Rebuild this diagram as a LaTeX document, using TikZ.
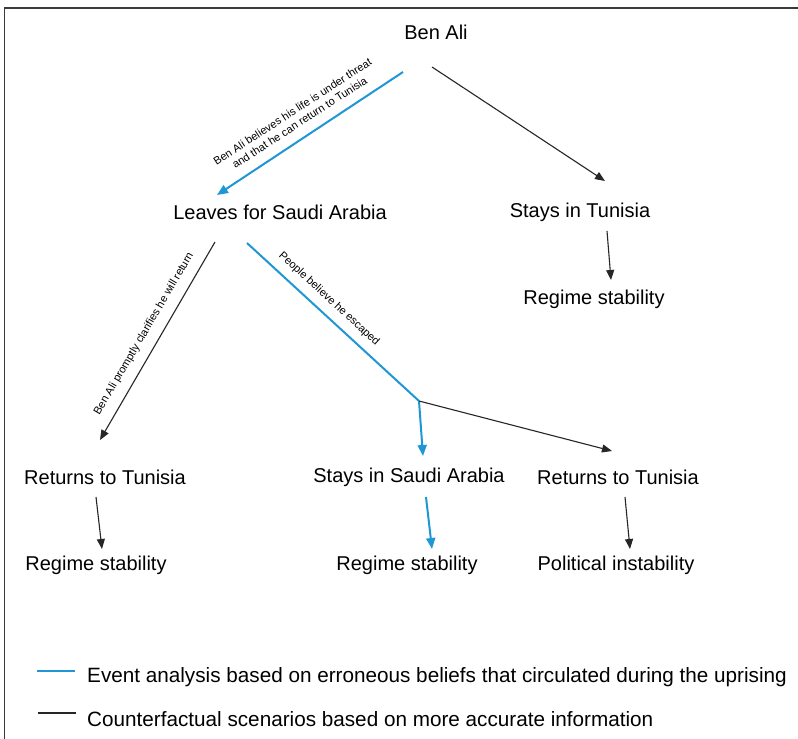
\documentclass[tikz,border=0pt]{standalone}
\usepackage{fontspec}
\setmainfont{Liberation Sans}
\usetikzlibrary{arrows.meta}
\definecolor{evblue}{HTML}{1F97D4}
\definecolor{framegray}{HTML}{3A3A3A}
\begin{document}
\begin{tikzpicture}[x=1pt,y=-1pt,
  lbl/.style={font=\fontsize{20}{24}\selectfont, inner sep=0pt, anchor=center},
  edgelbl/.style={font=\fontsize{11}{13}\selectfont, inner sep=0pt, align=center},
  legtxt/.style={font=\fontsize{20.7}{24}\selectfont, inner sep=0pt, anchor=west},
  bluearr/.style={draw=evblue, line width=2pt, -{Triangle[length=11pt,width=9pt]}},
  blackarr/.style={draw=black!85, line width=1.1pt, -{Triangle[length=10pt,width=8pt]}},
  blueline/.style={draw=evblue, line width=2pt},
  blackline/.style={draw=black!85, line width=1.1pt},
]
\useasboundingbox (0,0) rectangle (798,739);
\fill[white] (0,0) rectangle (798,739);
\draw[line width=1.5pt, framegray] (4.7,739) -- (4.7,8) -- (798,8);

% nodes
\node[lbl] (ben) at (436,32) {Ben Ali};
\node[lbl] (leaves) at (280,212) {Leaves for Saudi Arabia};
\node[lbl] (staysT) at (580,212) {Stays in Tunisia};
\node[lbl] (regT) at (594,299) {Regime stability};
\node[lbl] (retL) at (105,477) {Returns to Tunisia};
\node[lbl] (regL) at (96,565) {Regime stability};
\node[lbl] (staysS) at (409,477) {Stays in Saudi Arabia};
\node[lbl] (retR) at (618,477) {Returns to Tunisia};
\node[lbl] (regM) at (407,565) {Regime stability};
\node[lbl] (polR) at (616,565) {Political instability};

% connector end points
\coordinate (a1s) at (403,72);
\coordinate (a1e) at (217,195);
\coordinate (a2s) at (432,67);
\coordinate (a2e) at (605,181);
\coordinate (a3s) at (607,231);
\coordinate (a3e) at (611,280);
\coordinate (a4s) at (215,242);
\coordinate (a4e) at (100,440);
\coordinate (a5s) at (247,243);
\coordinate (jn) at (419,401);
\coordinate (a6e) at (423,456);
\coordinate (a7e) at (612,451);
\coordinate (a8s) at (96,497);
\coordinate (a8e) at (102,549);
\coordinate (a9s) at (426,497);
\coordinate (a9e) at (432,549);
\coordinate (a10s) at (625,497);
\coordinate (a10e) at (630,549);

% connectors
\draw[bluearr] (a1s) -- (a1e);
\draw[blackarr] (a2s) -- (a2e);
\draw[blackarr] (a3s) -- (a3e);
\draw[blackarr] (a4s) -- (a4e);
\draw[blueline] (a5s) -- (jn);
\draw[bluearr] (jn) -- (a6e);
\draw[blackarr] (jn) -- (a7e);
\draw[blackarr] (a8s) -- (a8e);
\draw[bluearr] (a9s) -- (a9e);
\draw[blackarr] (a10s) -- (a10e);

% edge labels
\node[edgelbl, rotate=33] (l1) at (296,117) {Ben Ali believes his life is under threat\\and that he can return to Tunisia};
\node[edgelbl, rotate=59.6] (l2) at (144,334) {Ben Ali promptly clarifies he will return};
\node[edgelbl, rotate=-42.6] (l3) at (329,299) {People believe he escaped};

% legend
\coordinate (lg1s) at (37,671);
\coordinate (lg1e) at (75,671);
\coordinate (lg2s) at (38,713);
\coordinate (lg2e) at (76,713);
\draw[blueline] (lg1s) -- (lg1e);
\draw[draw=black!85, line width=1.8pt] (lg2s) -- (lg2e);
\node[legtxt] (lt1) at (87,677) {Event analysis based on erroneous beliefs that circulated during the uprising};
\node[legtxt] (lt2) at (87,719) {Counterfactual scenarios based on more accurate information};
\end{tikzpicture}
\end{document}
